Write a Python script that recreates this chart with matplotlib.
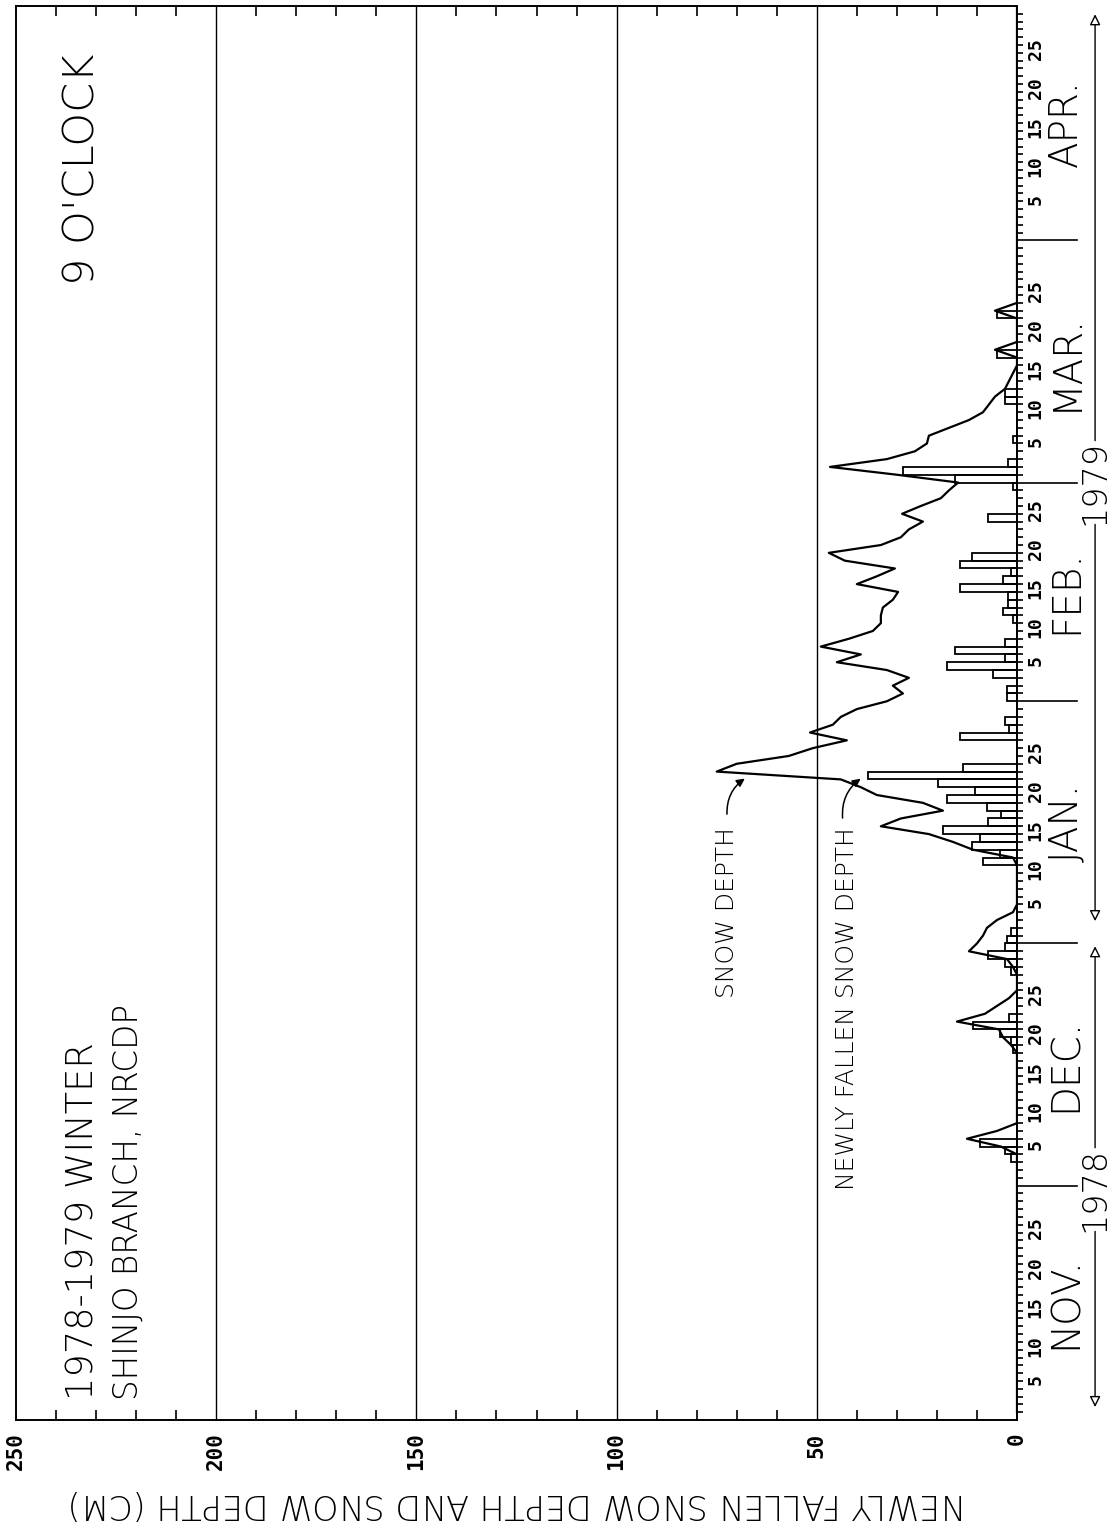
import numpy as np
import matplotlib
matplotlib.use("Agg")
import matplotlib.pyplot as plt

# months shown along the date axis (Nov 1 = day 1)
months = ["NOV.", "DEC.", "JAN.", "FEB.", "MAR.", "APR."]
month_days = [30, 31, 31, 28, 31, 30]

# snow depth at 9 o'clock (cm), one value per day
depth_nov = [0] * 30
depth_dec = [0, 0, 0, 0, 4, 12.5, 5, 0, 0, 0, 0, 0, 0, 0, 0, 0,
             0, 1.5, 3.5, 4.5, 15, 8, 5, 2, 0, 0, 0, 1, 2.5, 12, 10]
depth_jan = [8.5, 7.5, 5, 1, 0, 0, 0, 0, 0, 0, 1, 11, 16, 22, 34, 29,
             18.5, 23.5, 35, 39, 44, 75, 70, 57, 51, 42.5, 51.7, 46, 44, 40, 32.5]
depth_feb = [28.5, 31, 27, 32.5, 45, 39, 49, 42, 36, 34, 34, 33.5, 31, 29.7,
             40, 35, 30.5, 43, 47, 34, 29, 27, 23.5, 28.7, 24, 19, 17, 14.7]
depth_mar = [30, 46.7, 32.5, 25.5, 22.5, 22, 17, 12, 8.5, 7, 5.5, 3, 2, 1, 0, 0,
             5.5, 0, 0, 0, 0, 5.5, 0, 0, 0, 0, 0, 0, 0, 0, 0]
depth_apr = [0] * 30

# newly fallen snow depth (cm), one value per day
new_nov = [0] * 30
new_dec = [0, 0, 0, 1.5, 3, 9.2, 0, 0, 0, 0, 0, 0, 0, 0, 0, 0,
           0, 1, 1.5, 4.2, 11, 2, 0, 0, 0, 0, 0, 1.5, 3, 7.2, 3]
new_jan = [2.5, 1.5, 0, 0, 0, 0, 0, 0, 0, 0, 8.5, 4.2, 11.2, 9.2, 18.5, 7.2,
           4, 7.5, 17.5, 10.5, 19.7, 37.2, 13.5, 0, 0, 0, 14.2, 2, 3, 0, 0]
new_feb = [2.5, 2.5, 0, 6, 17.5, 3, 15.5, 3, 0, 0, 1, 3.5, 2.2, 2.2,
           14.2, 3.5, 1.5, 14.2, 11.2, 0, 0, 0, 0, 7.2, 0, 0, 0, 1]
new_mar = [15.5, 28.5, 2.2, 0, 0, 1, 0, 0, 0, 0, 3, 3, 0, 0, 0, 0,
           5, 0, 0, 0, 0, 5, 0, 0, 0, 0, 0, 0, 0, 0, 0]
new_apr = [0] * 30

depth_ticks = [0, 50, 100, 150, 200, 250]
day_labels = [5, 10, 15, 20, 25]

depth = np.array(depth_nov + depth_dec + depth_jan + depth_feb + depth_mar + depth_apr)
new_snow = np.array(new_nov + new_dec + new_jan + new_feb + new_mar + new_apr)
day = np.arange(1, len(depth) + 1)
starts = np.concatenate([[0], np.cumsum(month_days)])

plt.rcParams["font.family"] = ["DejaVu Sans"]
MONO = ["DejaVu Sans Mono"]
W = "light"

fig = plt.figure(figsize=(11.12, 15.23), dpi=100)
ax = fig.add_axes([16 / 1112, 1 - 1420 / 1523, 1001 / 1112, 1414 / 1523])
ax.set_xlim(250, 0)
ax.set_ylim(0, starts[-1])
for s in ax.spines.values():
    s.set_linewidth(1.4)

# newly fallen snow: open step bars, snow depth: line
ax.barh(day - 0.5, new_snow, height=1.0, left=0, fill=False,
        edgecolor="black", linewidth=1.3)
ax.plot(depth, day, color="black", lw=1.6)

for g in depth_ticks[1:-1]:
    ax.axvline(g, color="black", lw=1.0)

# depth axis
ax.set_xticks(depth_ticks)
ax.set_xticklabels([str(v) for v in depth_ticks], rotation=90, family=MONO,
                   weight="bold", fontsize=15, va="top")
ax.tick_params(axis="x", which="major", length=0, pad=9)
ax.set_xticks([v for v in range(10, 250, 10) if v % 50], minor=True)
ax.tick_params(axis="x", which="minor", direction="in", length=7,
               width=1.2, top=True, bottom=True)

# date axis on the right, one tick per day
ax.yaxis.tick_right()
pos, lab = [], []
for m, n in enumerate(month_days):
    for d in range(1, n):
        pos.append(starts[m] + d)
        lab.append(str(d) if d in day_labels else "")
ax.set_yticks(pos)
ax.set_yticklabels(lab, rotation=90, family=MONO, weight="bold", fontsize=13)
ax.tick_params(axis="y", direction="out", length=4, width=1.2, pad=3)

for b in starts[1:-1]:
    ax.plot([0, -15], [b, b], color="black", lw=1.2, clip_on=False)
for m, name in enumerate(months):
    ax.text(-12.3, (starts[m] + starts[m + 1]) / 2, name, rotation=90,
            ha="center", va="center", fontsize=28, weight=W)

# year spans
yx = -19.5
ax.text(yx, 29.5, "1978", rotation=90, ha="center", va="center",
        fontsize=24, weight=W)
ax.text(yx, 120, "1979", rotation=90, ha="center", va="center",
        fontsize=24, weight=W)
arw = dict(arrowstyle="-|>", fc="white", ec="black", lw=1.0, mutation_scale=16)
for a, b in [(24.5, 1.3), (34.5, 61.0), (115, 63.5), (125, 180.3)]:
    ax.annotate("", xy=(yx, b), xytext=(yx, a), arrowprops=arw,
                annotation_clip=False)

# titles
ax.text(233.5, 2.5, "1978-1979 WINTER", rotation=90, ha="center", va="bottom",
        fontsize=26.5, weight=W)
ax.text(222, 2.5, "SHINJO BRANCH, NRCDP", rotation=90, ha="center",
        va="bottom", fontsize=23.5, weight=W)
ax.text(233.5, 145.3, "9 O'CLOCK", rotation=90, ha="center", va="bottom",
        fontsize=31, weight=W)

# curve labels
ax.text(72.4, 75.9, "SNOW DEPTH", rotation=90, ha="center", va="top",
        fontsize=18, weight=W)
ax.text(42.5, 75.9, "NEWLY FALLEN SNOW DEPTH", rotation=90, ha="center",
        va="top", fontsize=18, weight=W)
lab_arw = dict(arrowstyle="-|>", color="black", lw=1.1, mutation_scale=12,
               connectionstyle="arc3,rad=-0.3")
ax.annotate("", xy=(67.4, 82.3), xytext=(72.4, 77.2), arrowprops=lab_arw)
ax.annotate("", xy=(38.5, 82.3), xytext=(43.5, 76.7), arrowprops=lab_arw)

fig.text(516 / 1112, 1 - 1503 / 1523,
         "NEWLY FALLEN SNOW DEPTH AND SNOW DEPTH (CM)", rotation=180,
         ha="center", va="center", fontsize=24, weight=W)

fig.savefig("out.png", dpi=100)
